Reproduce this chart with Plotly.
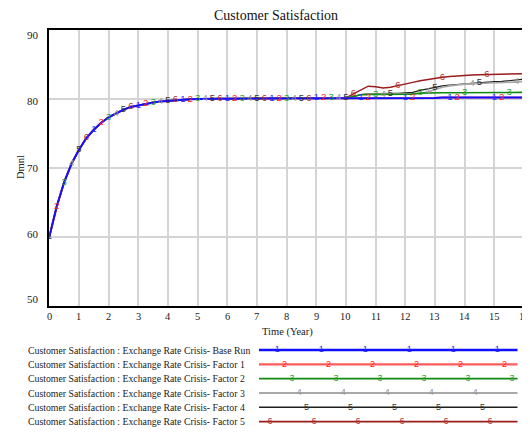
import plotly.graph_objects as go

# window is 530x433; the page body adds an 8px margin, so the figure is 522x425
OFF = 8
W, H = 530 - OFF, 433 - OFF

# ---------------- data ----------------
time = [i * 0.25 for i in range(65)]  # 0 .. 16 years, quarter-year steps

common_part = [60.0, 64.4, 67.9, 70.6, 72.6, 74.3, 75.5, 76.5, 77.3, 77.9,
               78.4, 78.8, 79.05, 79.3, 79.45, 79.6, 79.7, 79.8, 79.85, 79.9,
               79.95, 80.0, 80.0, 80.0, 80.0, 80.0, 80.0, 80.0,
               80.05, 80.05, 80.05, 80.05, 80.05, 80.05, 80.05, 80.05,
               80.1, 80.1, 80.1, 80.1, 80.1]

base_tail = [80.1, 80.1, 80.1, 80.1, 80.1, 80.1, 80.1, 80.1, 80.1, 80.1, 80.1, 80.1,
             80.15, 80.15, 80.15, 80.15, 80.15, 80.15, 80.15, 80.15, 80.15, 80.15, 80.15, 80.15]
factor1_tail = list(base_tail)
factor2_tail = [80.3, 80.55, 80.6, 80.6, 80.6, 80.6, 80.6, 80.6, 80.65, 80.8, 80.85, 80.85,
                80.85, 80.85, 80.85, 80.9, 80.9, 80.9, 80.9, 80.9, 80.9, 80.9, 80.9, 80.9]
factor3_tail = [80.3, 80.55, 80.65, 80.65, 80.65, 80.65, 80.65, 80.65, 80.7, 80.75, 80.95, 81.35,
                81.65, 81.85, 82.0, 82.1, 82.15, 82.2, 82.2, 82.25, 82.3, 82.35, 82.4, 82.45]
factor4_tail = [80.3, 80.6, 80.7, 80.75, 80.75, 80.75, 80.75, 80.8, 80.9, 81.2, 81.45, 81.65,
                81.85, 81.95, 82.05, 82.15, 82.2, 82.3, 82.35, 82.45, 82.5, 82.6, 82.7, 82.8]
factor5_tail = [80.7, 81.3, 81.8, 81.7, 81.55, 81.65, 81.85, 82.1, 82.35, 82.6, 82.8, 82.95,
                83.1, 83.2, 83.3, 83.4, 83.42, 83.45, 83.48, 83.5, 83.52, 83.55, 83.57, 83.6]

series_names = ["Customer Satisfaction : Exchange Rate Crisis- Base Run",
                "Customer Satisfaction : Exchange Rate Crisis- Factor 1",
                "Customer Satisfaction : Exchange Rate Crisis- Factor 2",
                "Customer Satisfaction : Exchange Rate Crisis- Factor 3",
                "Customer Satisfaction : Exchange Rate Crisis- Factor 4",
                "Customer Satisfaction : Exchange Rate Crisis- Factor 5"]
series_values = [common_part + base_tail, common_part + factor1_tail,
                 common_part + factor2_tail, common_part + factor3_tail,
                 common_part + factor4_tail, common_part + factor5_tail]
marker_labels = ["1", "2", "3", "4", "5", "6"]

x_ticks = list(range(0, 17))
x_tick_labels = [str(v) for v in x_ticks]
y_ticks = [50, 60, 70, 80, 90]
y_tick_labels = ["50", "60", "70", "80", "90"]

# ---------------- styles ----------------
line_colors = ["#1010ff", "#ff5a5a", "#108a10", "#a8a8a8", "#202020", "#9a1c1c"]
text_colors = ["#2a2aff", "#ff2020", "#30a030", "#999999", "#333333", "#b03030"]
line_widths = [2.0, 2.0, 1.6, 1.6, 1.2, 1.5]
y_label_shift = [7.5, 3.0, 0.0, -2.5, -5.5]   # Vensim keeps end labels inside the frame
SERIF = "Liberation Serif, Times New Roman, serif"
SANS = "Liberation Sans, Arial, sans-serif"

fig = go.Figure()

# lines (draw last series first so the base run is on top)
for k in reversed(range(6)):
    fig.add_trace(go.Scatter(x=time, y=series_values[k], mode="lines",
                             line=dict(color=line_colors[k], width=line_widths[k]),
                             xaxis="x", yaxis="y", showlegend=False, hoverinfo="skip"))

# digit markers along the lines: series k every 6 samples, offset by k samples
for k in range(6):
    idx = list(range(k, len(time), 6))
    fig.add_trace(go.Scatter(x=[time[i] for i in idx], y=[series_values[k][i] for i in idx],
                             mode="text", text=[marker_labels[k]] * len(idx),
                             textposition="middle center",
                             textfont=dict(family=SANS, size=9.5, color=text_colors[k]),
                             xaxis="x", yaxis="y", showlegend=False, hoverinfo="skip",
                             cliponaxis=False))

# ---------------- legend drawn in a window-pixel overlay axis ----------------
row_y = [350.0, 364.3, 378.6, 393.0, 407.3, 421.7]
leg_x0, leg_x1 = 259, 517.5
first_mark = [277.3, 284.6, 291.9, 299.2, 306.5, 269.9]
annotations = []
for k in range(6):
    fig.add_trace(go.Scatter(x=[leg_x0, leg_x1], y=[row_y[k], row_y[k]], mode="lines",
                             line=dict(color=line_colors[k], width=line_widths[k] + 0.3),
                             xaxis="x2", yaxis="y2", showlegend=False, hoverinfo="skip"))
    mx = []
    m = first_mark[k]
    while m <= leg_x1 - 1:
        mx.append(m)
        m += 44.0
    fig.add_trace(go.Scatter(x=mx, y=[row_y[k]] * len(mx), mode="text",
                             text=[marker_labels[k]] * len(mx), textposition="middle center",
                             textfont=dict(family=SANS, size=9, color=text_colors[k]),
                             xaxis="x2", yaxis="y2", showlegend=False, hoverinfo="skip"))
    annotations.append(dict(x=26, y=row_y[k], xref="x2", yref="y2", text=series_names[k],
                            showarrow=False, xanchor="left", yanchor="middle",
                            font=dict(family=SERIF, size=9.8, color="#222222")))

# y tick labels placed on the y scale, right-aligned left of the frame
for v, lab, sh in zip(y_ticks, y_tick_labels, y_label_shift):
    annotations.append(dict(x=0, y=v, xref="x", yref="y", text=lab, showarrow=False,
                            xanchor="right", yanchor="middle", xshift=-8, yshift=sh,
                            font=dict(family=SERIF, size=11, color="#222222")))

# x tick labels placed on the x scale, below the frame
for v, lab in zip(x_ticks, x_tick_labels):
    annotations.append(dict(x=v, y=50, xref="x", yref="y", text=lab, showarrow=False,
                            xanchor="center", yanchor="middle", yshift=-10.7, borderpad=0,
                            font=dict(family=SERIF, size=10.5, color="#222222")))

annotations.append(dict(x=276, y=15, xref="x2", yref="y2", text="Customer Satisfaction",
                        showarrow=False, xanchor="center", yanchor="middle", borderpad=0,
                        font=dict(family=SERIF, size=14, color="#111111")))
annotations.append(dict(x=287, y=331.5, xref="x2", yref="y2", text="Time (Year)",
                        showarrow=False, xanchor="center", yanchor="middle",
                        font=dict(family=SERIF, size=10.5, color="#222222")))
annotations.append(dict(x=20, y=167, xref="x2", yref="y2", text="Dmnl", textangle=-90,
                        showarrow=False, xanchor="center", yanchor="middle",
                        font=dict(family=SERIF, size=10.5, color="#222222")))

# plot area in window pixels
x0_px, x1_px = 49.3, 524.0
y_top_px, y_bot_px = 29.5, 306.0

fig.update_layout(
    width=W, height=H, autosize=False,
    margin=dict(l=0, r=0, t=0, b=0, pad=0),
    paper_bgcolor="white", plot_bgcolor="rgba(0,0,0,0)",
    showlegend=False,
    annotations=annotations,
    xaxis=dict(domain=[(x0_px - OFF) / W, (x1_px - OFF) / W], range=[0, 16], tickvals=x_ticks,
               showticklabels=False,
               showgrid=True, gridcolor="#d4d4d4", gridwidth=1.5, zeroline=False,
               showline=True, linecolor="black", linewidth=1.6, mirror=True,
               ticks="", anchor="y"),
    yaxis=dict(domain=[1 - (y_bot_px - OFF) / H, 1 - (y_top_px - OFF) / H], range=[50, 90],
               tickvals=y_ticks, showticklabels=False,
               showgrid=True, gridcolor="#d4d4d4", gridwidth=1.5, zeroline=False,
               showline=True, linecolor="black", linewidth=1.6, mirror=True,
               ticks="", anchor="x"),
    xaxis2=dict(domain=[0, 1], range=[OFF, OFF + W], visible=False, anchor="y2", fixedrange=True),
    yaxis2=dict(domain=[0, 1], range=[OFF + H, OFF], visible=False, anchor="x2", fixedrange=True),
)

fig.write_html("out.html")
